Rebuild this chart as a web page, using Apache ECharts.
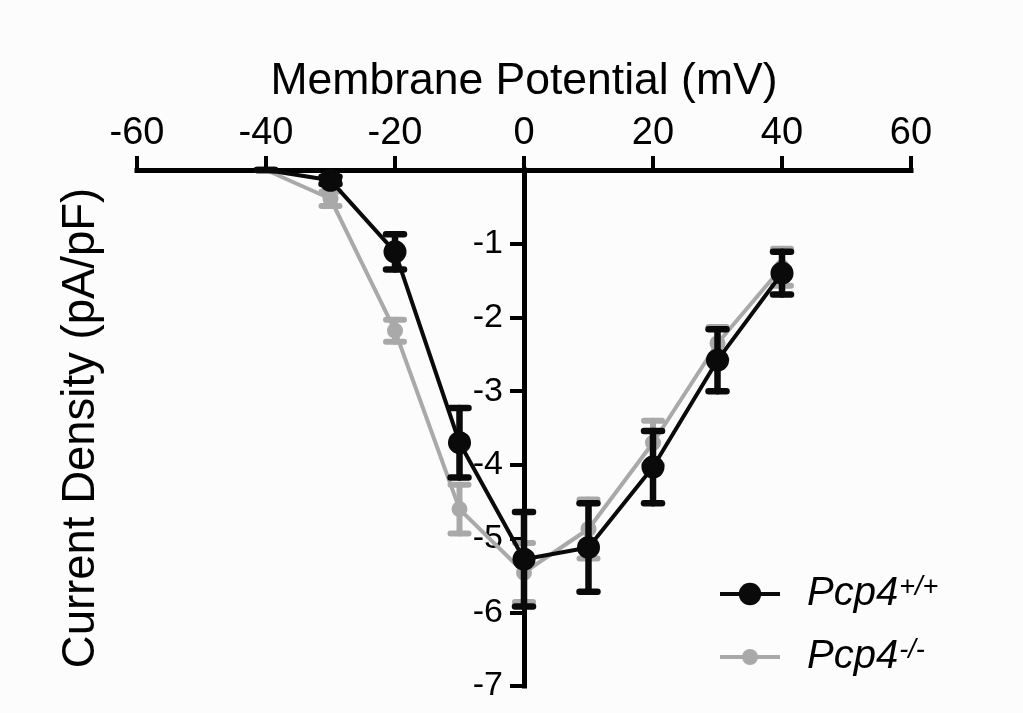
<!DOCTYPE html>
<html>
<head>
<meta charset="utf-8">
<script src="https://cdn.jsdelivr.net/npm/echarts@6/dist/echarts.min.js"></script>
<style>
html,body{margin:0;padding:0;background:#fcfcfc;}
#chart{width:1023px;height:713px;}
</style>
</head>
<body>
<div id="chart"></div>
<script>
// ---- data ----
const voltages = [-40, -30, -20, -10, 0, 10, 20, 30, 40];
const wtMean = [0, -0.14, -1.11, -3.70, -5.28, -5.12, -4.03, -2.58, -1.40];
const wtSem  = [0, 0.05, 0.24, 0.47, 0.64, 0.60, 0.49, 0.42, 0.29];
const koMean = [0, -0.39, -2.18, -4.60, -5.46, -4.87, -3.70, -2.35, -1.32];
const koSem  = [0, 0.10, 0.15, 0.33, 0.40, 0.40, 0.30, 0.22, 0.25];
const xTicks = [-60, -40, -20, 0, 20, 40, 60];
const yTicks = [-7, -6, -5, -4, -3, -2, -1, 0];
const seriesNames = ['WT', 'KO'];

const BLACK = '#0a0a0a';
const GRAY = '#a9a9a9';
const FONT = 'Liberation Sans';

const GRID_LEFT = 137, GRID_RIGHT = 112, CHART_W = 1023;
// horizontal offset that puts the y axis at x = 0 (middle of symmetric x range)
const Y_AXIS_OFFSET = -(CHART_W - GRID_LEFT - GRID_RIGHT) / 2;

function pts(mean) {
  return voltages.map((v, i) => ({
    value: [v, mean[i]],
    symbol: mean[i] === 0 && v === -40 ? 'none' : 'circle'
  }));
}
function errs(mean, sem) {
  return voltages.map((v, i) => [v, mean[i] - sem[i], mean[i] + sem[i]]);
}
function errRender(color, lw, hw) {
  return function (params, api) {
    const x = api.value(0);
    const p1 = api.coord([x, api.value(1)]);
    const p2 = api.coord([x, api.value(2)]);
    const st = { stroke: color, lineWidth: lw, lineCap: 'round' };
    return {
      type: 'group',
      children: [
        { type: 'line', shape: { x1: p1[0], y1: p1[1], x2: p2[0], y2: p2[1] }, style: st },
        { type: 'line', shape: { x1: p1[0] - hw, y1: p1[1], x2: p1[0] + hw, y2: p1[1] }, style: st },
        { type: 'line', shape: { x1: p2[0] - hw, y1: p2[1], x2: p2[0] + hw, y2: p2[1] }, style: st }
      ]
    };
  };
}

const legendRich = {
  i: { fontFamily: FONT, fontStyle: 'italic', fontSize: 40, color: '#000', padding: [0, 0, 0, 22] },
  s: { fontFamily: FONT, fontStyle: 'italic', fontSize: 27, color: '#000', verticalAlign: 'top', padding: [0, 0, 0, 1] }
};
const supers = { WT: '+/+', KO: '-/-' };

const chart = echarts.init(document.getElementById('chart'));
chart.setOption({
  backgroundColor: '#fcfcfc',
  animation: false,
  grid: { left: GRID_LEFT, right: GRID_RIGHT, top: 170, bottom: 27, containLabel: false, outerBoundsMode: 'none' },
  xAxis: {
    type: 'value', position: 'top', min: xTicks[0], max: xTicks[xTicks.length - 1], interval: 20,
    name: 'Membrane Potential (mV)', nameLocation: 'middle', nameGap: 66,
    nameTextStyle: { fontFamily: FONT, fontSize: 44.5, color: '#000' },
    axisLine: { onZero: false, lineStyle: { color: '#000', width: 5, cap: 'square' } },
    axisTick: { show: true, length: 14, lineStyle: { color: '#000', width: 4 } },
    axisLabel: { fontFamily: FONT, fontSize: 38, color: '#000', margin: 17 },
    splitLine: { show: false }
  },
  yAxis: {
    type: 'value', position: 'left', offset: Y_AXIS_OFFSET,
    min: yTicks[0], max: yTicks[yTicks.length - 1], interval: 1,
    name: 'Current Density (pA/pF)', nameLocation: 'middle', nameGap: 420, nameRotate: 90,
    nameTextStyle: { fontFamily: FONT, fontSize: 45.5, color: '#000' },
    axisLine: { onZero: false, lineStyle: { color: '#000', width: 5, cap: 'square' } },
    axisTick: { show: true, length: 14, lineStyle: { color: '#000', width: 4 } },
    axisLabel: { fontFamily: FONT, fontSize: 34, color: '#000', margin: 21,
      formatter: v => (v === 0 ? '' : String(v)) },
    splitLine: { show: false }
  },
  legend: [
    {
      data: [seriesNames[0]], orient: 'vertical', left: 713, top: 569,
      itemWidth: 60, itemHeight: 28,
      lineStyle: { width: 4 },
      formatter: n => '{i|Pcp4}{s|' + supers[n] + '}',
      textStyle: { rich: legendRich }
    },
    {
      data: [seriesNames[1]], orient: 'vertical', left: 713, top: 632,
      itemWidth: 60, itemHeight: 20,
      lineStyle: { width: 4 },
      formatter: n => '{i|Pcp4}{s|' + supers[n] + '}',
      textStyle: { rich: legendRich }
    }
  ],
  series: [
    {
      name: seriesNames[1], type: 'line', data: pts(koMean), z: 3, symbol: 'circle',
      symbolSize: 16, lineStyle: { color: GRAY, width: 4 }, itemStyle: { color: GRAY }
    },
    {
      name: seriesNames[1] + '_err', type: 'custom', data: errs(koMean, koSem), z: 2,
      renderItem: errRender(GRAY, 6, 9), encode: { x: 0, y: [1, 2] }
    },
    {
      name: seriesNames[0], type: 'line', data: pts(wtMean), z: 5, symbol: 'circle',
      symbolSize: 23, lineStyle: { color: BLACK, width: 4 }, itemStyle: { color: BLACK }
    },
    {
      name: seriesNames[0] + '_err', type: 'custom', data: errs(wtMean, wtSem), z: 4,
      renderItem: errRender(BLACK, 6.5, 9), encode: { x: 0, y: [1, 2] }
    }
  ]
});
</script>
</body>
</html>
